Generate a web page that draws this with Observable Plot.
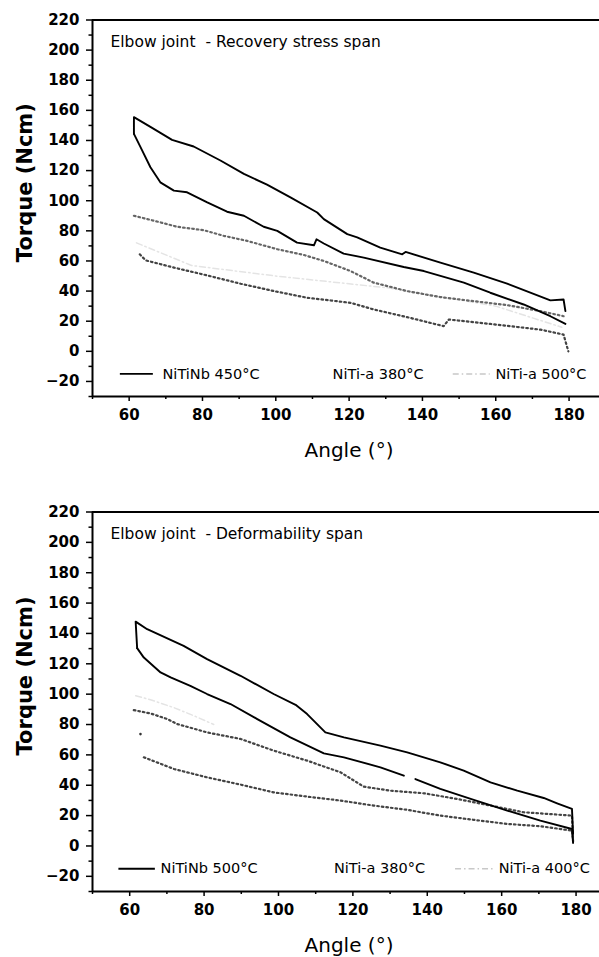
<!DOCTYPE html>
<html><head><meta charset="utf-8">
<script src="https://cdn.jsdelivr.net/npm/d3@7"></script>
<script src="https://cdn.jsdelivr.net/npm/@observablehq/plot@0.6"></script>
<style>
body{margin:0;background:#fff;width:599px;height:957px;overflow:hidden;}
#c svg{display:block;}
</style></head><body><div id="c"></div>
<script>
// ---- axis ticks ----
const angleTicks = [60, 80, 100, 120, 140, 160, 180];
const angleMinor = [50, 70, 90, 110, 130, 150, 170];
const torqueTicks = [-20, 0, 20, 40, 60, 80, 100, 120, 140, 160, 180, 200, 220];
const torqueMinor = [-30, -10, 10, 30, 50, 70, 90, 110, 130, 150, 170, 190, 210];

// ---- top panel: Recovery stress span ----
const topTitle = "Elbow joint\u00a0 - Recovery stress span";
const topLegend = ["NiTiNb 450°C", "NiTi-a 380°C", "NiTi-a 500°C"];
const topNbUpperAngle = [61.3, 61.3, 65.8, 71.7, 77.6, 84.9, 91.3, 97.6, 104.0, 111.3, 113.1, 119.5, 122.2, 128.5, 134.5, 135.4, 144.9, 154.0, 163.1, 174.9, 178.5, 179.0];
const topNbUpperTorque = [144.4, 155.5, 149.0, 140.4, 136.0, 126.7, 117.8, 110.7, 102.2, 92.2, 87.8, 77.8, 75.6, 68.9, 64.4, 66.0, 58.9, 52.2, 44.9, 33.8, 34.4, 26.7];
const topNbLowerAngle = [61.3, 63.1, 65.8, 68.5, 72.2, 75.8, 81.3, 86.7, 91.3, 96.7, 100.4, 105.8, 110.4, 111.1, 113.1, 118.5, 124.0, 134.9, 140.4, 151.3, 158.5, 167.6, 174.9, 179.0];
const topNbLowerTorque = [144.4, 135.6, 122.2, 112.2, 106.7, 105.6, 98.9, 92.7, 90.0, 82.7, 80.0, 72.2, 70.4, 74.4, 71.6, 64.9, 62.2, 56.0, 53.3, 45.6, 38.9, 31.1, 23.3, 18.2];
const top380Angle = [61.3, 67.6, 73.1, 80.4, 85.8, 92.2, 100.4, 107.6, 113.1, 120.4, 126.7, 135.8, 144.9, 154.0, 163.1, 172.2, 178.5];
const top380Torque = [90.0, 86.2, 82.7, 80.4, 76.7, 73.3, 67.8, 64.0, 60.0, 53.3, 45.6, 40.0, 36.0, 33.3, 30.7, 26.7, 23.3];
const top500Angle = [62.9, 64.5, 72.2, 81.3, 90.4, 99.5, 108.5, 120.4, 126.7, 135.8, 145.8, 147.2, 158.5, 172.2, 178.5, 179.8];
const top500Torque = [64.4, 60.4, 55.6, 50.4, 44.9, 40.0, 35.6, 32.2, 27.8, 22.7, 16.7, 21.1, 18.2, 14.4, 11.1, 0.0];
const top500FaintAngle = [62.0, 77.0, 100.0, 131.0, 160.0, 178.0];
const top500FaintTorque = [72.0, 57.0, 50.0, 42.0, 30.0, 16.0];

// ---- bottom panel: Deformability span ----
const botTitle = "Elbow joint\u00a0 - Deformability span";
const botLegend = ["NiTiNb 500°C", "NiTi-a 380°C", "NiTi-a 400°C"];
const botNbUpperAngle = [62.0, 61.6, 64.7, 74.5, 80.8, 89.8, 98.7, 104.6, 107.7, 112.6, 117.6, 127.4, 134.6, 143.5, 149.8, 157.0, 164.2, 171.3, 174.9, 178.9, 179.2];
const botNbUpperTorque = [130.3, 147.8, 142.8, 131.8, 123.1, 112.1, 100.1, 93.0, 86.9, 74.8, 71.5, 66.1, 61.6, 55.1, 49.6, 41.9, 36.4, 31.6, 28.1, 24.4, 8.0];
const botNbLowerAngleA = [62.0, 63.8, 68.3, 71.0, 76.3, 80.8, 87.1, 94.3, 103.2, 112.2, 117.6, 127.4, 133.7];
const botNbLowerTorqueA = [130.3, 124.1, 114.3, 111.0, 105.5, 100.1, 93.5, 83.6, 71.5, 61.0, 58.4, 51.8, 46.3];
const botNbLowerAngleB = [136.8, 143.5, 152.5, 161.5, 170.4, 178.9, 179.2];
const botNbLowerTorqueB = [44.1, 37.6, 30.3, 23.3, 16.7, 11.2, 2.0];
const bot400Angle = [61.1, 65.6, 70.1, 72.8, 80.8, 89.8, 98.7, 107.7, 116.7, 122.9, 130.1, 139.1, 148.0, 157.0, 165.9, 178.9, 179.2];
const bot400Torque = [89.5, 87.3, 83.6, 80.3, 74.8, 70.5, 62.8, 56.2, 48.5, 39.1, 36.4, 34.7, 31.0, 26.6, 22.2, 20.0, 3.0];
const bot380Angle = [63.8, 71.9, 80.8, 89.8, 98.7, 107.7, 116.7, 125.6, 134.6, 143.5, 152.5, 161.5, 170.4, 178.9, 179.2];
const bot380Torque = [58.4, 50.7, 45.2, 40.4, 35.3, 32.5, 29.9, 26.6, 23.8, 20.0, 17.2, 14.5, 13.0, 10.1, 4.0];
const bot400FaintAngle = [61.6, 66.0, 72.0, 78.0, 82.6];
const bot400FaintTorque = [99.0, 96.0, 91.0, 85.0, 80.0];
const botDotAngle = [62.9];
const botDotTorque = [73.7];

const rows = (xs, ys) => xs.map((x, i) => ({x, y: ys[i]}));
const FONT = "DejaVu Sans";

function panel(cfg) {
  const solid = {x: "x", y: "y", stroke: "#000", strokeWidth: 1.9, strokeLinejoin: "round"};
  const dotted = (c) => ({x: "x", y: "y", stroke: c, strokeWidth: 2.2, strokeDasharray: "1.6,3"});
  const L = cfg.legend;
  const lx = cfg.legendX;
  return Plot.plot({
    width: 599, height: cfg.height,
    marginLeft: 92, marginRight: 0, marginTop: cfg.marginTop, marginBottom: cfg.marginBottom,
    style: {fontFamily: FONT, fontSize: "15px", fontWeight: "bold", color: "#000", background: "#fff"},
    x: {domain: cfg.xDomain},
    y: {domain: [-30, 220]},
    marks: [
      // faint light branch
      Plot.line(rows(cfg.faintA, cfg.faintT), {x: "x", y: "y", stroke: "#e4e4e4", strokeWidth: 1.5, strokeDasharray: "6,3,1.5,3"}),
      Plot.line(rows(cfg.dotA1, cfg.dotT1), dotted(cfg.dotColor1)),
      Plot.line(rows(cfg.dotA2, cfg.dotT2), dotted(cfg.dotColor2)),
      ...cfg.solids.map(([a, t]) => Plot.line(rows(a, t), solid)),
      ...(cfg.extraDots ? [Plot.dot(rows(cfg.extraDots[0], cfg.extraDots[1]), {x: "x", y: "y", r: 1.3, fill: "#333"})] : []),
      // frame lines
      Plot.ruleY([220], {stroke: "#000", strokeWidth: 2}),
      Plot.ruleY([-30], {stroke: "#000", strokeWidth: 2}),
      Plot.ruleX([cfg.xDomain[0]], {stroke: "#000", strokeWidth: 2}),
      // axes
      Plot.axisY(torqueTicks, {tickSize: 6, tickPadding: 7, fontSize: 15, strokeWidth: 1.5, label: null}),
      Plot.axisY(torqueMinor, {tickSize: 3.5, text: null, strokeWidth: 1.5, label: null}),
      Plot.axisX(angleTicks, {tickSize: 5, tickPadding: 8, fontSize: 15, strokeWidth: 1.5, label: null}),
      Plot.axisX(angleMinor, {tickSize: 3, text: null, strokeWidth: 1.5, label: null}),
      // axis titles
      Plot.text(["Angle (°)"], {frameAnchor: "bottom", dy: 54, dx: 3, fontSize: 20, fontWeight: "normal", lineAnchor: "middle"}),
      Plot.text(["Torque (Ncm)"], {x: cfg.xDomain[0], y: 112, dx: -67, rotate: -90, fontSize: 21, fontWeight: "bold"}),
      // panel title
      Plot.text([cfg.title], {frameAnchor: "top-left", dx: 18, dy: 22, textAnchor: "start", lineAnchor: "middle", fontSize: 15.5, fontWeight: "normal"}),
      // legend
      Plot.ruleY([-15], {x1: lx[0], x2: lx[1], stroke: "#000", strokeWidth: 1.8}),
      Plot.text([L[0]], {x: lx[2], y: -15, textAnchor: "start", fontSize: 14.5, fontWeight: "normal"}),
      Plot.text([L[1]], {x: lx[3], y: -15, textAnchor: "start", fontSize: 14.5, fontWeight: "normal"}),
      Plot.ruleY([-15], {x1: lx[4], x2: lx[5], stroke: "#c8c8c8", strokeWidth: 1.5, strokeDasharray: "6,3,1.5,3"}),
      Plot.text([L[2]], {x: lx[6], y: -15, textAnchor: "start", fontSize: 14.5, fontWeight: "normal"})
    ]
  });
}

const c = document.getElementById("c");
c.appendChild(panel({
  height: 478, marginTop: 19.5, marginBottom: 82,
  xDomain: [50, 188.3],
  title: topTitle, legend: topLegend,
  legendX: [57.6, 66.6, 69.1, 115.5, 148.4, 158.5, 159.9],
  faintA: top500FaintAngle, faintT: top500FaintTorque,
  dotA1: top380Angle, dotT1: top380Torque, dotColor1: "#666",
  dotA2: top500Angle, dotT2: top500Torque, dotColor2: "#444",
  solids: [[topNbUpperAngle, topNbUpperTorque], [topNbLowerAngle, topNbLowerTorque]]
}));
c.appendChild(panel({
  height: 479, marginTop: 33.5, marginBottom: 66,
  xDomain: [50, 186.3],
  title: botTitle, legend: botLegend,
  legendX: [57.1, 66.9, 68.3, 114.9, 147.6, 157.9, 159.2],
  faintA: bot400FaintAngle, faintT: bot400FaintTorque,
  dotA1: bot400Angle, dotT1: bot400Torque, dotColor1: "#444",
  dotA2: bot380Angle, dotT2: bot380Torque, dotColor2: "#444",
  solids: [[botNbUpperAngle, botNbUpperTorque], [botNbLowerAngleA, botNbLowerTorqueA], [botNbLowerAngleB, botNbLowerTorqueB]],
  extraDots: [botDotAngle, botDotTorque]
}));
</script>
</body></html>
